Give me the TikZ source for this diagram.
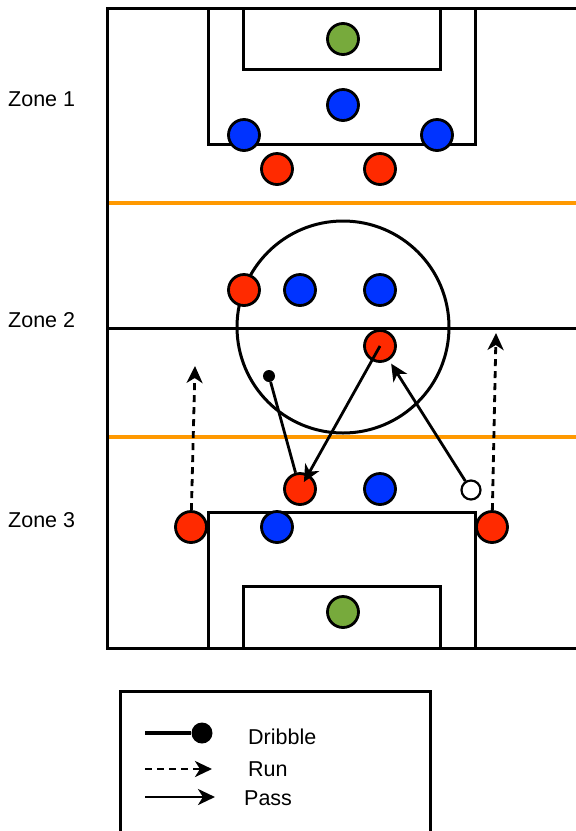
\documentclass[tikz,border=0pt]{standalone}
\usepackage{fontspec}
\setmainfont{Liberation Sans}
\usetikzlibrary{arrows.meta}

\definecolor{teamred}{HTML}{FF2A00}
\definecolor{teamblue}{HTML}{0033FF}
\definecolor{keeper}{HTML}{77AA3C}
\definecolor{zoneline}{HTML}{FF9900}

\tikzset{
  pitchline/.style={line width=3pt, draw=black},
  zoneborder/.style={line width=3.2pt, draw=zoneline},
  player/.style={circle, draw=black, line width=2.8pt, minimum size=31pt, inner sep=0pt},
  redp/.style={player, fill=teamred},
  bluep/.style={player, fill=teamblue},
  gk/.style={player, fill=keeper},
  ballp/.style={circle, draw=black, line width=2.2pt, fill=white, minimum size=19pt, inner sep=0pt},
  dot/.style={circle, fill=black, minimum size=12pt, inner sep=0pt},
  tip/.style={-{Stealth[length=17pt,width=16pt,inset=5pt]}},
  pass/.style={line width=2.8pt, tip},
  runarrow/.style={line width=2.8pt, dash pattern=on 7pt off 5pt, tip},
  dribble/.style={line width=2.8pt},
  zonetext/.style={font=\fontsize{21.5}{26}\selectfont, anchor=west, inner sep=0pt},
}

\begin{document}
\begin{tikzpicture}[x=1pt, y=-1pt]
\useasboundingbox (0,0) rectangle (576,831);

% zone boundaries
\draw[zoneborder] (107,203) -- (590,203);
\draw[zoneborder] (107,437) -- (590,437);

% pitch outline and halfway line
\draw[pitchline] (590,8) -- (107,8) -- (107,648) -- (590,648);
\draw[pitchline] (107,328) -- (590,328);
\draw[pitchline] (343,327) circle[radius=106];

% top penalty area and goal area
\draw[pitchline] (208,8) rectangle (475,144);
\draw[pitchline] (243,8) rectangle (440,69);
% bottom penalty area and goal area
\draw[pitchline] (208,648) rectangle (475,512);
\draw[pitchline] (243,648) rectangle (440,586);

% zone labels
\node[zonetext] (z1) at (8,99) {Zone 1};
\node[zonetext] (z2) at (8,320) {Zone 2};
\node[zonetext] (z3) at (8,520) {Zone 3};

% players
\node[gk] (gk1) at (343,39) {};
\node[bluep] (b1) at (343,105) {};
\node[bluep] (b2) at (244,135) {};
\node[bluep] (b3) at (437,135) {};
\node[redp] (r1) at (277,169) {};
\node[redp] (r2) at (380,169) {};

\node[redp] (r3) at (244,290) {};
\node[bluep] (b4) at (300,290) {};
\node[bluep] (b5) at (380,290) {};
\node[redp] (r4) at (380,346) {};

\node[redp] (r5) at (300,489) {};
\node[bluep] (b6) at (380,489) {};
\node[ballp] (w) at (471,490) {};

\node[redp] (r6) at (191,527) {};
\node[bluep] (b7) at (277,527) {};
\node[redp] (r7) at (492,527) {};
\node[gk] (gk2) at (343,612) {};

\node[dot] (d) at (269,376) {};

% movements
\coordinate (run1) at (195,366);
\coordinate (run2) at (496,333);
\draw[runarrow] (r6) -- (run1);
\draw[runarrow] (r7) -- (run2);
\draw[dribble] (d) -- (r5);
\draw[pass, shorten >=8pt] (r4.center) -- (r5.center);
\draw[pass, shorten >=4pt] (w) -- (r4);

% legend
\draw[pitchline] (120,845) -- (120,691) -- (430,691) -- (430,845);
\coordinate (ld0) at (145,733);
\node[dot, minimum size=21pt] (ld1) at (202,733) {};
\draw[line width=4.8pt] (ld0) -- (ld1);
\node[zonetext] (lt1) at (248,737) {Dribble};
\coordinate (lr0) at (145,769);
\coordinate (lr1) at (212,769);
\draw[runarrow] (lr0) -- (lr1);
\node[zonetext] (lt2) at (248,769) {Run};
\coordinate (lp0) at (145,797);
\coordinate (lp1) at (215,797);
\draw[pass] (lp0) -- (lp1);
\node[zonetext] (lt3) at (244,798) {Pass};
\end{tikzpicture}
\end{document}
